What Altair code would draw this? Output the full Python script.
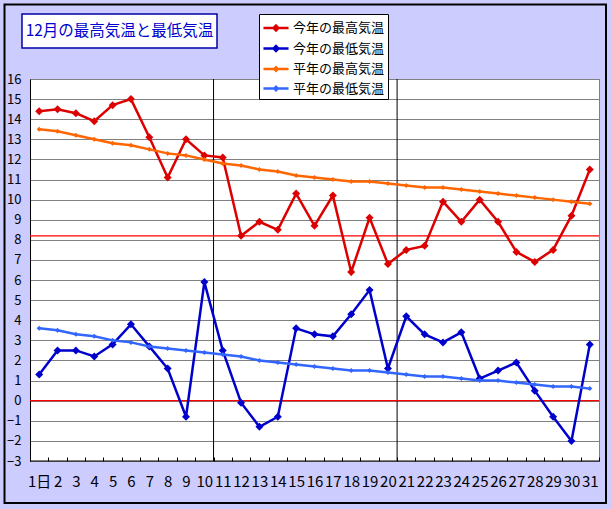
import altair as alt
import pandas as pd

# ---- data ----
days = ["1日", "2", "3", "4", "5", "6", "7", "8", "9", "10",
        "11", "12", "13", "14", "15", "16", "17", "18", "19", "20",
        "21", "22", "23", "24", "25", "26", "27", "28", "29", "30", "31"]

tmax_this = [14.4, 14.5, 14.3, 13.9, 14.7, 15.0, 13.1, 11.1, 13.0, 12.2,
             12.1, 8.2, 8.9, 8.5, 10.3, 8.7, 10.2, 6.4, 9.1, 6.8,
             7.5, 7.7, 9.9, 8.9, 10.0, 8.9, 7.4, 6.9, 7.5, 9.2, 11.5]
tmin_this = [1.3, 2.5, 2.5, 2.2, 2.8, 3.8, 2.7, 1.6, -0.8, 5.9,
             2.5, -0.1, -1.3, -0.8, 3.6, 3.3, 3.2, 4.3, 5.5, 1.6,
             4.2, 3.3, 2.9, 3.4, 1.1, 1.5, 1.9, 0.5, -0.8, -2.0, 2.8]
tmax_norm = [13.5, 13.4, 13.2, 13.0, 12.8, 12.7, 12.5, 12.3, 12.2, 12.0,
             11.8, 11.7, 11.5, 11.4, 11.2, 11.1, 11.0, 10.9, 10.9, 10.8,
             10.7, 10.6, 10.6, 10.5, 10.4, 10.3, 10.2, 10.1, 10.0, 9.9, 9.8]
tmin_norm = [3.6, 3.5, 3.3, 3.2, 3.0, 2.9, 2.7, 2.6, 2.5, 2.4,
             2.3, 2.2, 2.0, 1.9, 1.8, 1.7, 1.6, 1.5, 1.5, 1.4,
             1.3, 1.2, 1.2, 1.1, 1.0, 1.0, 0.9, 0.8, 0.7, 0.7, 0.6]

series_names = ["今年の最高気温", "今年の最低気温", "平年の最高気温", "平年の最低気温"]
series_values = [tmax_this, tmin_this, tmax_norm, tmin_norm]
series_colors = ["#DD0000", "#0000CC", "#FF6600", "#3366FF"]
marker_sizes = [64, 64, 25, 25]

y_ticks = [-3, -2, -1, 0, 1, 2, 3, 4, 5, 6, 7, 8, 9, 10, 11, 12, 13, 14, 15, 16]
ref_values = [0, 8.2]
separator_after = ["10", "20"]
title_text = "12月の最高気温と最低気温"

FONT = "Noto Sans CJK JP"

rows = []
for name, vals in zip(series_names, series_values):
    for d, v in zip(days, vals):
        rows.append({"series": name, "day": d, "value": v})
df = pd.DataFrame(rows)

x_scale = alt.Scale(type="band", domain=days, paddingInner=0, paddingOuter=0)
x_axis = alt.Axis(title=None, labelAngle=0, offset=-4, tickSize=4, tickBand="extent",
                  tickColor="black", tickWidth=1, domain=False, grid=False,
                  labelPadding=13, labelFontSize=15, labelFont=FONT,
                  labelColor="black", labelOverlap=False)
y_scale = alt.Scale(domain=[y_ticks[0], y_ticks[-1]], nice=False, zero=False)
y_axis = alt.Axis(title=None, values=y_ticks, grid=True, gridColor="#808080",
                  gridWidth=1, domain=True, domainColor="black", domainWidth=1,
                  ticks=False, tickSize=0, labelPadding=9, labelFontSize=13,
                  labelFont=FONT, labelColor="black")


def X(field="day:N", **kw):
    return alt.X(field, sort=days, scale=x_scale, axis=x_axis, **kw)


def Y(field="value:Q"):
    return alt.Y(field, scale=y_scale, axis=y_axis)


layers = []

# vertical separators between day 10/11 and 20/21
layers.append(
    alt.Chart(pd.DataFrame({"day": separator_after}))
    .mark_rule(color="black", strokeWidth=1)
    .encode(x=X(bandPosition=1))
)
# bottom frame line
layers.append(
    alt.Chart(pd.DataFrame({"v": [y_ticks[0]]}))
    .mark_rule(color="black", strokeWidth=1)
    .encode(y=Y("v:Q"))
)
# red reference lines
layers.append(
    alt.Chart(pd.DataFrame({"v": ref_values}))
    .mark_rule(color="#FF0000", strokeWidth=1.2)
    .encode(y=Y("v:Q"))
)

for name, color, msize in zip(series_names, series_colors, marker_sizes):
    base = alt.Chart(df).transform_filter(alt.datum.series == name)
    layers.append(base.mark_line(color=color, strokeWidth=2.5).encode(x=X(), y=Y()))
    layers.append(
        base.mark_point(shape="diamond", filled=True, size=msize, color=color, opacity=1)
        .encode(x=X(), y=Y())
    )

# legend (drawn through the library's legend)
big = "M-1.32,0L1.32,0M0,-0.26L0.26,0L0,0.26L-0.26,0Z"
small = "M-1.32,0L1.32,0M0,-0.17L0.17,0L0,0.17L-0.17,0Z"
legend = alt.Legend(title=None, orient="none", legendX=229, legendY=-65,
                    fillColor="white", strokeColor="black", padding=3,
                    labelFont=FONT, labelFontSize=13, labelColor="black",
                    rowPadding=1.5, symbolSize=361, symbolStrokeWidth=2.5,
                    labelOffset=6, symbolOffset=3,
                    labelExpr="datum.label + '\u2002'")
layers.append(
    alt.Chart(df).transform_filter("false")
    .mark_point(filled=True, opacity=1, strokeWidth=2.5)
    .encode(
        x=X(), y=Y(),
        fill=alt.Fill("series:N", scale=alt.Scale(domain=series_names, range=series_colors), legend=legend),
        stroke=alt.Stroke("series:N", scale=alt.Scale(domain=series_names, range=series_colors), legend=legend),
        shape=alt.Shape("series:N", scale=alt.Scale(domain=series_names, range=[big, big, small, small]), legend=legend),
    )
)

# title box
tdf = pd.DataFrame({"t": [title_text]})
layers.append(
    alt.Chart(tdf).mark_rect(fill="white", stroke="#0000AA", strokeWidth=1.5)
    .encode(x=alt.value(-8), x2=alt.value(187), y=alt.value(-65), y2=alt.value(-31))
)
layers.append(
    alt.Chart(tdf).mark_text(font=FONT, fontSize=15.5, color="#0000CC", align="center", baseline="middle")
    .encode(x=alt.value(89.5), y=alt.value(-48), text="t:N")
)
# outer frame
layers.append(
    alt.Chart(tdf).mark_rect(fill=None, stroke="black", strokeWidth=2)
    .encode(x=alt.value(-25.5), x2=alt.value(576), y=alt.value(-74.5), y2=alt.value(424))
)

chart = (
    alt.layer(*layers)
    .properties(width=569, height=382,
                autosize=alt.AutoSizeParams(type="none"),
                padding={"left": 30, "top": 79, "right": 13, "bottom": 48},
                background="#CCCCFF")
    .configure_view(stroke="#808080", fill="white", strokeWidth=1)
)

chart.save("out.html", embed_options={"renderer": "svg", "actions": False})
